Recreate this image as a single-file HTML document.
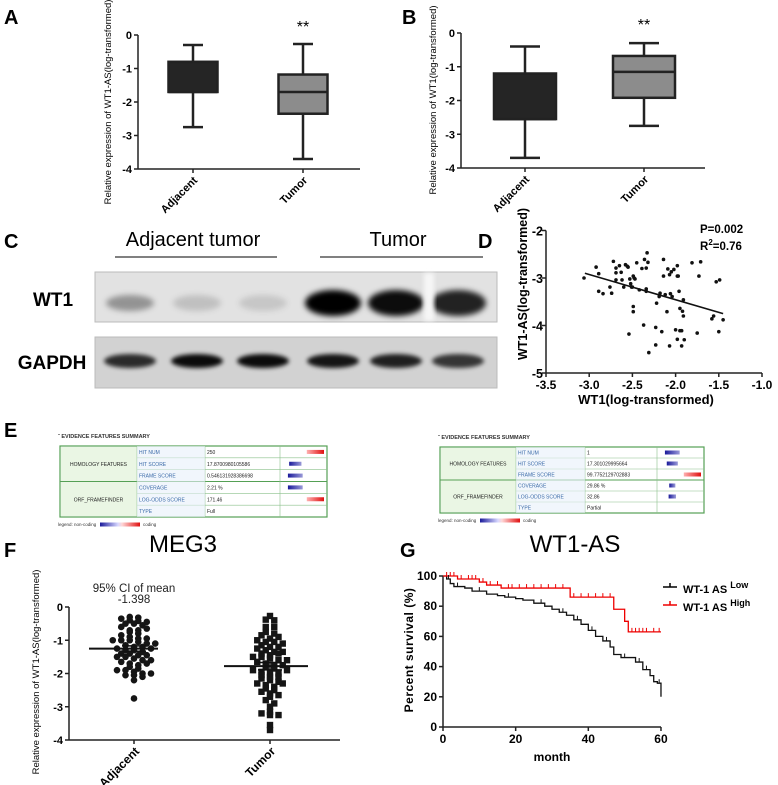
<!DOCTYPE html>
<html><head><meta charset="utf-8"><style>
html,body{margin:0;padding:0;background:#fff}
svg{display:block;font-family:"Liberation Sans",Arial,sans-serif}
.pl{font-size:20px;font-weight:bold}
.tk{font-size:11px;font-weight:bold}
</style></head><body>
<svg id="fig" width="778" height="785" viewBox="0 0 778 785" xmlns="http://www.w3.org/2000/svg">
<defs>
<filter id="blur3" x="-30%" y="-80%" width="160%" height="260%"><feGaussianBlur stdDeviation="3"/></filter>
<filter id="blur2" x="-30%" y="-80%" width="160%" height="260%"><feGaussianBlur stdDeviation="2"/></filter>
<linearGradient id="legGrad" x1="0" x2="1"><stop offset="0" stop-color="#1a1a9a"/><stop offset="0.45" stop-color="#d8d8ff"/><stop offset="0.55" stop-color="#ffd8d8"/><stop offset="1" stop-color="#e01010"/></linearGradient>
<linearGradient id="blueBar" x1="0" x2="1"><stop offset="0" stop-color="#1a1a9a"/><stop offset="1" stop-color="#9a9ad8"/></linearGradient>
<linearGradient id="redBar" x1="0" x2="1"><stop offset="0" stop-color="#ffb0b0"/><stop offset="1" stop-color="#e01010"/></linearGradient>
</defs>
<g id="pA">
<text class="pl" x="4" y="24">A</text>
<text font-size="9.5" transform="translate(111,102) rotate(-90)" text-anchor="middle">Relative expression of WT1-AS(log-transformed)</text>
</g>
<g id="pB">
<text class="pl" x="402" y="24">B</text>
<text font-size="9.5" transform="translate(436,100) rotate(-90)" text-anchor="middle">Relative expression of WT1(log-transformed)</text>
</g>
<g id="pC">
<text class="pl" x="4" y="248">C</text>
<text x="193" y="246" font-size="20" text-anchor="middle">Adjacent tumor</text>
<line x1="115" y1="257" x2="277" y2="257" stroke="#000" stroke-width="1"/>
<text x="398" y="246" font-size="20" text-anchor="middle">Tumor</text>
<line x1="320" y1="257" x2="483" y2="257" stroke="#000" stroke-width="1"/>
<text x="53" y="306" font-size="19" font-weight="bold" text-anchor="middle">WT1</text>
<text x="52" y="369" font-size="19" font-weight="bold" text-anchor="middle">GAPDH</text>
<rect x="95" y="272" width="402" height="50" fill="#e2e2e2" stroke="#bbb"/>
<rect x="95" y="337" width="402" height="51" fill="#d2d2d2" stroke="#bbb"/>
<g id="bands"></g>
</g>
<g id="pD">
<text class="pl" x="478" y="248">D</text>
<text x="700" y="233" font-size="11.5" font-weight="bold">P=0.002</text>
<text x="700" y="250" font-size="11.5" font-weight="bold">R<tspan font-size="8" dy="-5">2</tspan><tspan dy="5">=0.76</tspan></text>
<text font-size="12.5" font-weight="bold" transform="translate(527,284) rotate(-90)" text-anchor="middle">WT1-AS(log-transformed)</text>
<text x="646" y="404" font-size="13" font-weight="bold" text-anchor="middle">WT1(log-transformed)</text>
</g>
<g id="pE">
<text class="pl" x="4" y="437">E</text>
</g>
<g id="pF">
<text class="pl" x="4" y="557">F</text>
<text x="183" y="552" font-size="24" text-anchor="middle">MEG3</text>
<text x="134" y="592" font-size="11.5" text-anchor="middle" fill="#222">95% CI of mean</text>
<text x="134" y="603" font-size="11.5" text-anchor="middle" fill="#222">-1.398</text>
<text font-size="9.5" transform="translate(39,672) rotate(-90)" text-anchor="middle">Relative expression of WT1-AS(log-transformed)</text>
</g>
<g id="pG">
<text class="pl" x="400" y="557">G</text>
<text x="575" y="552" font-size="24" text-anchor="middle">WT1-AS</text>
<text font-size="12" font-weight="bold" transform="translate(413,650) rotate(-90)" text-anchor="middle" letter-spacing="0.5">Percent survival (%)</text>
<text x="552" y="761" font-size="12" font-weight="bold" text-anchor="middle">month</text>
<g>
<line x1="663" y1="587" x2="677" y2="587" stroke="#000" stroke-width="1.5"/><line x1="670" y1="583" x2="670" y2="587" stroke="#000" stroke-width="1.5"/>
<text x="683" y="593" font-size="11" font-weight="bold">WT-1 AS <tspan font-size="9" dy="-5">Low</tspan></text></g>
<g>
<line x1="663" y1="605" x2="677" y2="605" stroke="#e00" stroke-width="1.5"/><line x1="670" y1="601" x2="670" y2="605" stroke="#e00" stroke-width="1.5"/>
<text x="683" y="611" font-size="11" font-weight="bold">WT-1 AS <tspan font-size="9" dy="-5">High</tspan></text></g>
</g>
</svg>
<script>
const NS="http://www.w3.org/2000/svg";
function mk(tag,parent,attrs){const e=document.createElementNS(NS,tag);for(const k in attrs)e.setAttribute(k,attrs[k]);parent.appendChild(e);return e;}

// ---- Panel A / B box plots ----
const boxCats=["Adjacent","Tumor"];
const aMin=[-2.75,-3.7], aQ1=[-1.7,-2.35], aMed=[-1.7,-1.7], aQ3=[-0.8,-1.18], aMax=[-0.3,-0.27];
const bMin=[-3.7,-2.75], bQ1=[-2.55,-1.92], bMed=[-2.55,-1.15], bQ3=[-1.2,-0.68], bMax=[-0.4,-0.3];
const boxTicks=[0,-1,-2,-3,-4];

function boxPanel(g,ax,xEnd,y0,y4,centers,bw,cap,mn,q1,md,q3,mx,pre){
  const y=v=>y0+(-v)*(y4-y0)/4;
  const yl=mk('line',g,{x1:ax,y1:y0,x2:ax,y2:y4,stroke:'#222','stroke-width':1.5});
  
  
  const xl=mk('line',g,{x1:ax,y1:y4,x2:xEnd,y2:y4,stroke:'#222','stroke-width':1.5});
  
  
  boxTicks.forEach(t=>{
    mk('line',g,{x1:ax-4,y1:y(t),x2:ax,y2:y(t),stroke:'#222','stroke-width':1.5});
    const tx=mk('text',g,{x:ax-6,y:y(t)+4,'text-anchor':'end',class:'tk'});
    tx.textContent=t;
    
    
  });
  boxCats.forEach((c,i)=>{
    const cx=centers[i];
    const bg=mk('g',g,{});
    
    
    mk('line',bg,{x1:cx,y1:y(mx[i]),x2:cx,y2:y(mn[i]),stroke:'#222','stroke-width':2.5});
    mk('line',bg,{x1:cx-cap/2,y1:y(mx[i]),x2:cx+cap/2,y2:y(mx[i]),stroke:'#222','stroke-width':2.5});
    mk('line',bg,{x1:cx-cap/2,y1:y(mn[i]),x2:cx+cap/2,y2:y(mn[i]),stroke:'#222','stroke-width':2.5});
    mk('rect',bg,{x:cx-bw/2,y:y(q3[i]),width:bw,height:y(q1[i])-y(q3[i]),fill:i===0?'#252525':'#8c8c8c',stroke:'#222','stroke-width':2.5});
    mk('line',bg,{x1:cx-bw/2,y1:y(md[i]),x2:cx+bw/2,y2:y(md[i]),stroke:'#222','stroke-width':2.5});
    mk('line',g,{x1:cx,y1:y4,x2:cx,y2:y4+4,stroke:'#222','stroke-width':1.5});
    const lb=mk('text',g,{'text-anchor':'end',class:'tk',transform:`translate(${cx+5},${y4+12}) rotate(-45)`});
    lb.textContent=c;
    
    
  });
  const st=mk('text',g,{x:centers[1],y:y0-3,'text-anchor':'middle','font-size':16});
  st.textContent='**';
  
  
}
boxPanel(document.getElementById('pA'),138,360,35,169,[193,303],49,20,aMin,aQ1,aMed,aQ3,aMax,'a');
boxPanel(document.getElementById('pB'),461,705,33,168,[525,644],62,30,bMin,bQ1,bMed,bQ3,bMax,'b');

// ---- Panel C blot bands ----
const laneX=[130,197,263,333,396,458];
const wt1Int=[0.35,0.15,0.12,1,0.95,0.85];
const gapdhInt=[0.8,0.95,0.95,0.9,0.85,0.75];
const bands=document.getElementById('bands');
laneX.forEach((x,i)=>{
  const b=mk('ellipse',bands,{cx:x,cy:303,rx:i>2?28:24,ry:i>2?13:8,fill:'#000','fill-opacity':wt1Int[i],filter:'url(#blur3)'});
  
  
  const g2=mk('ellipse',bands,{cx:x,cy:361,rx:26,ry:7,fill:'#000','fill-opacity':gapdhInt[i],filter:'url(#blur2)'});
  
  
});
mk('rect',bands,{x:424,y:273,width:10,height:48,fill:'#f6f6f6',filter:'url(#blur2)'});

// ---- Panel D scatter ----
const dX=[-3.06,-2.92,-2.89,-2.89,-2.84,-2.76,-2.74,-2.72,-2.69,-2.69,-2.69,-2.65,-2.63,-2.62,-2.60,-2.58,-2.56,-2.55,-2.53,-2.52,-2.51,-2.50,-2.49,-2.48,-2.49,-2.49,-2.47,-2.45,-2.54,-2.42,-2.39,-2.37,-2.36,-2.34,-2.34,-2.33,-2.34,-2.32,-2.31,-2.23,-2.23,-2.22,-2.19,-2.18,-2.16,-2.14,-2.14,-2.12,-2.10,-2.09,-2.07,-2.06,-2.07,-2.05,-2.04,-2.02,-2.0,-1.98,-1.98,-1.98,-1.97,-1.96,-1.95,-1.95,-1.93,-1.93,-1.92,-1.91,-1.91,-1.90,-1.81,-1.75,-1.73,-1.71,-1.58,-1.56,-1.53,-1.49,-1.45,-1.50];
const dY=[-3.0,-2.77,-2.91,-3.28,-3.33,-3.19,-3.32,-2.65,-2.79,-2.89,-3.04,-2.74,-2.88,-3.04,-3.19,-2.72,-2.75,-2.77,-3.02,-3.12,-3.19,-3.19,-2.96,-3.0,-3.6,-3.71,-3.02,-2.68,-4.18,-3.25,-2.8,-3.99,-2.61,-3.23,-3.28,-2.47,-2.79,-2.67,-4.57,-4.04,-4.41,-3.53,-3.39,-3.32,-4.13,-2.61,-2.96,-3.35,-3.71,-2.81,-2.93,-3.33,-4.43,-2.87,-3.39,-2.82,-4.09,-4.29,-2.96,-2.74,-2.96,-3.28,-4.11,-3.64,-4.43,-4.11,-3.7,-3.8,-3.46,-4.3,-2.68,-4.16,-2.96,-2.66,-3.86,-3.8,-3.08,-3.04,-3.88,-4.13];
const dXTicks=[-3.5,-3.0,-2.5,-2.0,-1.5,-1.0];
const dYTicks=[-2,-3,-4,-5];
const dFit=[[-3.05,-2.9],[-1.45,-3.75]];
(function(){
  const g=document.getElementById('pD');
  const X=v=>546+(v+3.5)*86.4, Y=v=>373-(v+5)*47.5;
  const ya=mk('line',g,{x1:546,y1:Y(-2),x2:546,y2:373,stroke:'#222','stroke-width':1.5});
  
  
  const xa=mk('line',g,{x1:546,y1:373,x2:X(-1),y2:373,stroke:'#222','stroke-width':1.5});
  
  
  dYTicks.forEach(t=>{mk('line',g,{x1:542,y1:Y(t),x2:546,y2:Y(t),stroke:'#222','stroke-width':1.5});
    const tx=mk('text',g,{x:543,y:Y(t)+5,'text-anchor':'end','font-size':12.5,'font-weight':'bold'});tx.textContent=t;
    
    });
  dXTicks.forEach(t=>{mk('line',g,{x1:X(t),y1:373,x2:X(t),y2:377,stroke:'#222','stroke-width':1.5});
    const tx=mk('text',g,{x:X(t),y:389,'text-anchor':'middle','font-size':12,'font-weight':'bold'});tx.textContent=t.toFixed(1);
    
    });
  dX.forEach((v,i)=>{const c=mk('circle',g,{cx:X(v),cy:Y(dY[i]),r:1.8,fill:'#111'});
    
    });
  const fl=mk('line',g,{x1:X(dFit[0][0]),y1:Y(dFit[0][1]),x2:X(dFit[1][0]),y2:Y(dFit[1][1]),stroke:'#111','stroke-width':1.6});
  
  
})();

// ---- Panel E tables ----
const eNames=["HIT NUM","HIT SCORE","FRAME SCORE","COVERAGE","LOG-ODDS SCORE","TYPE"];
const eLeftVals=["250","17.8700980105586","0.546131928386698","2.21 %","171.46","Full"];
const eRightVals=["1","17.301029995664","99.7752129702883","29.86 %","32.86","Partial"];
function evTable(x0,y0,h,cols,vals,bars,pre){
  const g=document.getElementById('pE');
  const tg=mk('g',g,{});
  
  
  const t=mk('text',tg,{x:x0-2,y:y0-8,'font-size':5.5,'font-weight':'bold',fill:'#333'});t.textContent='\u02C6 EVIDENCE FEATURES SUMMARY';
  const W=cols[4]-x0, rh=h/6;
  mk('rect',tg,{x:x0,y:y0,width:W,height:h,fill:'#fff',stroke:'#55a055','stroke-width':1.2});
  mk('rect',tg,{x:x0+1,y:y0+1,width:cols[1]-x0-1,height:h-2,fill:'#eaf6e4'});
  mk('line',tg,{x1:x0,y1:y0+3*rh,x2:cols[4],y2:y0+3*rh,stroke:'#55a055','stroke-width':1});
  for(let r=1;r<6;r++)if(r!==3)mk('line',tg,{x1:cols[1],y1:y0+r*rh,x2:cols[4],y2:y0+r*rh,stroke:'#8bc08b','stroke-width':0.6});
  for(let c=1;c<4;c++)mk('line',tg,{x1:cols[c],y1:y0,x2:cols[c],y2:y0+h,stroke:'#8bc08b','stroke-width':0.6});
  mk('rect',tg,{x:cols[1],y:y0,width:cols[2]-cols[1],height:h,fill:'#e8f0fa','fill-opacity':0.6});
  const g1=mk('text',tg,{x:(x0+cols[1])/2,y:y0+1.5*rh+2,'text-anchor':'middle','font-size':5,fill:'#222'});g1.textContent='HOMOLOGY FEATURES';
  const g2=mk('text',tg,{x:(x0+cols[1])/2,y:y0+4.5*rh+2,'text-anchor':'middle','font-size':5,fill:'#222'});g2.textContent='ORF_FRAMEFINDER';
  eNames.forEach((n,i)=>{
    const a=mk('text',tg,{x:cols[1]+2,y:y0+(i+0.5)*rh+2,'font-size':5,fill:'#3a6aa8'});a.textContent=n;
    const b=mk('text',tg,{x:cols[2]+2,y:y0+(i+0.5)*rh+2,'font-size':5,fill:'#222'});b.textContent=vals[i];
    const bv=bars[i];
    if(bv!==0){
      const len=Math.abs(bv)*(cols[4]-cols[3]-6);
      const bx=bv>0?cols[4]-3-len*0.6:cols[3]+3+(1-Math.abs(bv))*((cols[4]-cols[3]-6)/2)*0.6;
      mk('rect',tg,{x:bx,y:y0+(i+0.5)*rh-2,width:Math.max(len*0.6,6),height:4,fill:bv>0?'url(#redBar)':'url(#blueBar)'});
    }
  });
  const lg=mk('text',tg,{x:x0-2,y:y0+h+9,'font-size':4.5,fill:'#333'});lg.textContent='legend: non-coding';
  mk('rect',tg,{x:x0+40,y:y0+h+5.5,width:40,height:4,fill:'url(#legGrad)'});
  const lg2=mk('text',tg,{x:x0+83,y:y0+h+9,'font-size':4.5,fill:'#333'});lg2.textContent='coding';
}
const eLeftBars=[0.7,-0.5,-0.6,-0.6,0.7,0];
const eRightBars=[-0.6,-0.45,0.7,-0.25,-0.3,0];
evTable(60,446,71,[60,137,205,280,327],eLeftVals,eLeftBars,'left');
evTable(440,447,66,[440,516,585,657,704],eRightVals,eRightBars,'right');

// ---- Panel F scatter dot plot ----
const fAdj=[-0.3,-0.32,-0.35,-0.4,-0.42,-0.45,-0.5,-0.5,-0.55,-0.6,-0.7,-0.7,-0.75,-0.8,-0.85,-0.9,-0.95,-1.0,-1.0,-1.0,-1.05,-1.1,-1.1,-1.15,-1.2,-1.2,-1.25,-1.3,-1.3,-1.35,-1.4,-1.4,-1.45,-1.5,-1.5,-1.55,-1.6,-1.6,-1.65,-1.7,-1.75,-1.8,-1.85,-1.9,-1.9,-1.95,-2.0,-2.0,-2.05,-2.05,-2.1,-2.2,-2.75,-0.65,-1.25,-1.45,-0.95,-1.7];
const fTum=[-0.27,-0.38,-0.4,-0.6,-0.6,-0.75,-0.8,-0.85,-0.95,-1.0,-1.05,-1.05,-1.1,-1.15,-1.2,-1.25,-1.3,-1.35,-1.35,-1.4,-1.45,-1.5,-1.5,-1.55,-1.6,-1.65,-1.7,-1.75,-1.8,-1.85,-1.9,-1.95,-2.0,-2.0,-2.05,-2.1,-2.15,-2.2,-2.25,-2.3,-2.35,-2.4,-2.45,-2.5,-2.55,-2.6,-2.65,-2.7,-2.8,-2.9,-3.0,-3.15,-3.2,-3.25,-3.25,-3.55,-3.7,-1.4,-1.6,-1.9,-2.1,-0.9,-1.2,-2.3,-1.75];
const fMeans=[-1.25,-1.78];
const fSem=[0.08,0.11];
const fCats=["Adjacent","Tumor"];
const fTicks=[0,-1,-2,-3,-4];
(function(){
  const g=document.getElementById('pF');
  const Y=v=>607+(-v)*33.25, cx=[134,270];
  const ya=mk('line',g,{x1:69,y1:607,x2:69,y2:740,stroke:'#222','stroke-width':1.5});
  
  
  const xa=mk('line',g,{x1:69,y1:740,x2:340,y2:740,stroke:'#222','stroke-width':1.5});
  
  
  fTicks.forEach(t=>{mk('line',g,{x1:65,y1:Y(t),x2:69,y2:Y(t),stroke:'#222','stroke-width':1.5});
    const tx=mk('text',g,{x:63,y:Y(t)+4,'text-anchor':'end',class:'tk'});tx.textContent=t;
    
    });
  [fAdj,fTum].forEach((arr,k)=>{
    const bins={};
    arr.forEach(v=>{const b=Math.round(v/0.13);(bins[b]=bins[b]||[]).push(v);});
    Object.keys(bins).forEach(b=>{
      const vs=bins[b], n=vs.length;
      vs.forEach((v,j)=>{
        const x=cx[k]+(j-(n-1)/2)*8.5;
        let m;
        if(k===0){m=mk('circle',g,{cx:x,cy:Y(v),r:3.3,fill:'#151515'});}
        else{m=mk('rect',g,{x:x-3.2,y:Y(v)-3.2,width:6.4,height:6.4,fill:'#151515'});}
        
        
      });
    });
    const ml=mk('line',g,{x1:cx[k]-(k?46:45),y1:Y(fMeans[k]),x2:cx[k]+(k?38:24),y2:Y(fMeans[k]),stroke:'#111','stroke-width':2});
    
    
    mk('line',g,{x1:cx[k],y1:Y(fMeans[k]-fSem[k]),x2:cx[k],y2:Y(fMeans[k]+fSem[k]),stroke:'#111','stroke-width':1.5});
    mk('line',g,{x1:cx[k]-12,y1:Y(fMeans[k]-fSem[k]),x2:cx[k]+12,y2:Y(fMeans[k]-fSem[k]),stroke:'#111','stroke-width':1.5});
    mk('line',g,{x1:cx[k]-12,y1:Y(fMeans[k]+fSem[k]),x2:cx[k]+12,y2:Y(fMeans[k]+fSem[k]),stroke:'#111','stroke-width':1.5});
    mk('line',g,{x1:cx[k],y1:740,x2:cx[k],y2:744,stroke:'#222','stroke-width':1.5});
    const lb=mk('text',g,{'text-anchor':'end','font-size':12,'font-weight':'bold',transform:`translate(${cx[k]+6},${752}) rotate(-45)`});
    lb.textContent=fCats[k];
    
    
  });
})();

// ---- Panel G survival ----
const gLowT=[0,1,2,3,6,8,12,15,17,20,22,25,28,30,32,34,36,38,40,42,44,46,47,49,52,53,55,57,58,59,60];
const gLowS=[100,98,95,93,92,90,88,87,86,85,84,82,80,78,76,74,71,68,64,60,57,53,48,46,46,43,38,34,30,29,20];
const gHighT=[0,4,10,12,16,35,47,50,51,60];
const gHighS=[100,98,96,94,92,86,78,70,63,63];
const gHighCens=[1,2,3,5,7,8,9,11,13,15,18,19,21,23,25,27,29,31,33,36,38,40,42,44,46,52,53,54,55,56,58,59.5];
const gLowCens=[1.5,4,10,18,27,33,37,41,45,50,54,56,59.5];
const gXTicks=[0,20,40,60];
const gYTicks=[0,20,40,60,80,100];
(function(){
  const g=document.getElementById('pG');
  const X=v=>443+v*3.633, Y=v=>727-v*1.51;
  const ya=mk('line',g,{x1:443,y1:Y(100),x2:443,y2:727,stroke:'#222','stroke-width':1.5});
  
  
  const xa=mk('line',g,{x1:443,y1:727,x2:X(60),y2:727,stroke:'#222','stroke-width':1.5});
  
  
  gYTicks.forEach(t=>{mk('line',g,{x1:439,y1:Y(t),x2:443,y2:Y(t),stroke:'#222','stroke-width':1.5});
    const tx=mk('text',g,{x:437,y:Y(t)+4,'text-anchor':'end','font-size':12,'font-weight':'bold'});tx.textContent=t;
    
    });
  gXTicks.forEach(t=>{mk('line',g,{x1:X(t),y1:727,x2:X(t),y2:731,stroke:'#222','stroke-width':1.5});
    const tx=mk('text',g,{x:X(t),y:743,'text-anchor':'middle','font-size':12,'font-weight':'bold'});tx.textContent=t;
    
    });
  function step(T,S){let d=`M${X(T[0])},${Y(S[0])}`;for(let i=1;i<T.length;i++){d+=`H${X(T[i])}V${Y(S[i])}`;}return d;}
  function sAt(T,S,t){let s=S[0];for(let i=0;i<T.length;i++)if(T[i]<=t)s=S[i];return s;}
  const lo=mk('path',g,{d:step(gLowT,gLowS),fill:'none',stroke:'#111','stroke-width':1.3});
  
  
  const hi=mk('path',g,{d:step(gHighT,gHighS),fill:'none',stroke:'#e00','stroke-width':1.3});
  
  
  gHighCens.forEach(t=>{const c=mk('line',g,{x1:X(t),y1:Y(sAt(gHighT,gHighS,t)),x2:X(t),y2:Y(sAt(gHighT,gHighS,t))-4,stroke:'#e00','stroke-width':1});
    
    });
  gLowCens.forEach(t=>{const c=mk('line',g,{x1:X(t),y1:Y(sAt(gLowT,gLowS,t)),x2:X(t),y2:Y(sAt(gLowT,gLowS,t))-4,stroke:'#111','stroke-width':1});
    
    });
})();
</script>
</body></html>
